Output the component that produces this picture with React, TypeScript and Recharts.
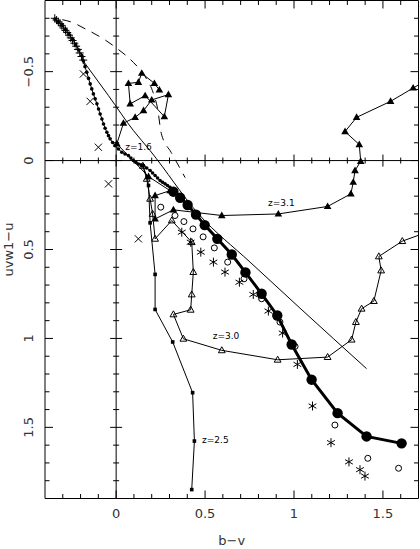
import React from 'react';
import { ComposedChart, Line, XAxis, YAxis, ReferenceLine, ReferenceDot } from 'recharts';

type P = [number, number];

// ---- data: [b−v, uvw1−u] ----
const dotTrack: P[] = [
  [-0.343, -0.796], [-0.325, -0.78], [-0.305, -0.76], [-0.285, -0.736], [-0.265, -0.71], [-0.245, -0.682],
  [-0.228, -0.652], [-0.21, -0.622], [-0.193, -0.59], [-0.184, -0.56], [-0.175, -0.528], [-0.165, -0.496],
  [-0.155, -0.462], [-0.146, -0.431], [-0.137, -0.403], [-0.128, -0.375], [-0.118, -0.347], [-0.108, -0.319],
  [-0.099, -0.29], [-0.09, -0.262], [-0.08, -0.234], [-0.071, -0.206], [-0.062, -0.182], [-0.052, -0.159],
  [-0.043, -0.14], [-0.034, -0.122], [-0.02, -0.102], [-0.006, -0.084], [0.013, -0.065], [0.032, -0.047],
  [0.05, -0.037], [0.069, -0.028], [0.083, -0.014], [0.097, 0], [0.111, 0.01], [0.125, 0.019], [0.14, 0.024],
  [0.154, 0.028], [0.172, 0.042], [0.191, 0.056], [0.205, 0.07], [0.219, 0.084], [0.233, 0.098], [0.247, 0.112],
  [0.261, 0.122], [0.275, 0.131], [0.289, 0.14], [0.303, 0.15],
];

const plusPts: P[] = [
  [-0.345, -0.8], [-0.335, -0.79], [-0.325, -0.78], [-0.315, -0.77], [-0.305, -0.758], [-0.295, -0.745],
  [-0.285, -0.732], [-0.275, -0.72], [-0.265, -0.705], [-0.255, -0.69], [-0.245, -0.675], [-0.235, -0.66],
  [-0.225, -0.643], [-0.215, -0.625], [-0.205, -0.605], [-0.195, -0.585], [-0.185, -0.565],
];

const crossPts: P[] = [[-0.184, -0.487], [-0.146, -0.333], [-0.1, -0.075], [-0.043, 0.131], [0.125, 0.44]];

const thinCurve: P[] = [
  [-0.193, -0.571], [-0.043, -0.365], [0.097, -0.169], [0.191, -0.056], [0.462, 0.299], [0.753, 0.571],
  [1.034, 0.83], [1.408, 1.17],
];

const dashedCurve: P[] = [
  [-0.303, -0.792], [-0.258, -0.781], [-0.165, -0.736], [-0.071, -0.684], [0.004, -0.631], [0.097, -0.552],
  [0.163, -0.472], [0.208, -0.382], [0.233, -0.292], [0.254, -0.152], [0.31, -0.045], [0.36, 0.045], [0.388, 0.096],
];

const track31Edge: P = [1.7, -0.425];
const track31: P[] = [
  [1.67, -0.408], [1.543, -0.333], [1.352, -0.243], [1.287, -0.163], [1.367, -0.09], [1.375, 0.004],
  [1.343, 0.056], [1.333, 0.122], [1.32, 0.187], [1.189, 0.258], [0.912, 0.3], [0.594, 0.309], [0.322, 0.277],
  [0.219, 0.328], [0.219, 0.197], [0.303, 0.169], [0.182, 0.09], [0.004, -0.094], [0.041, -0.21], [0.107, -0.243],
  [0.154, -0.281], [0.2, -0.341], [0.294, -0.371], [0.271, -0.247], [0.163, -0.365], [0.079, -0.319],
  [0.069, -0.434], [0.125, -0.44], [0.144, -0.491], [0.215, -0.434], [0.243, -0.397],
];

const track30Edge: P = [1.7, 0.42];
const track30: P[] = [
  [1.609, 0.453], [1.477, 0.539], [1.49, 0.618], [1.449, 0.79], [1.38, 0.833], [1.348, 0.908], [1.324, 1.007],
  [1.189, 1.105], [0.908, 1.12], [0.594, 1.067], [0.378, 1.002], [0.322, 0.865], [0.419, 0.839], [0.425, 0.753],
  [0.434, 0.627], [0.425, 0.459], [0.313, 0.337], [0.219, 0.44], [0.205, 0.3], [0.191, 0.215], [0.172, 0.103],
  [0.15, 0.03],
];

const track25: P[] = [
  [0.15, 0.03], [0.175, 0.094], [0.182, 0.14], [0.191, 0.35], [0.219, 0.64], [0.219, 0.837], [0.318, 1.02],
  [0.43, 1.305], [0.44, 1.577], [0.425, 1.85],
];

const bigCircleTrack: P[] = [
  [0.322, 0.175], [0.36, 0.209], [0.402, 0.25], [0.449, 0.304], [0.498, 0.363], [0.569, 0.44], [0.65, 0.528],
  [0.727, 0.629], [0.818, 0.749], [0.906, 0.871], [0.987, 1.034], [1.099, 1.232], [1.245, 1.42], [1.408, 1.551],
  [1.605, 1.59],
];

const openCirclePts: P[] = [
  [0.251, 0.262], [0.331, 0.309], [0.381, 0.343], [0.432, 0.384], [0.489, 0.429], [0.552, 0.491], [0.627, 0.571],
  [0.719, 0.665], [0.818, 0.777], [0.921, 0.908], [1.006, 1.045], [1.23, 1.487], [1.415, 1.674], [1.588, 1.73],
];

const starPts: P[] = [
  [0.369, 0.403], [0.419, 0.459], [0.476, 0.515], [0.547, 0.571], [0.612, 0.627], [0.693, 0.684], [0.771, 0.753],
  [0.856, 0.846], [0.936, 0.97], [1.019, 1.146], [1.104, 1.38], [1.208, 1.586], [1.309, 1.694], [1.371, 1.738],
  [1.399, 1.774],
];

const zLabels = [
  { text: 'z=1.6', x: 0.051, y: -0.062 },
  { text: 'z=3.1', x: 0.854, y: 0.253 },
  { text: 'z=3.0', x: 0.543, y: 1.006 },
  { text: 'z=2.5', x: 0.483, y: 1.59 },
];

// ---- axes ----
const xDomain: P = [-0.4, 1.7];
const yDomain: P = [-0.9, 1.9];
const xMinorTicks = [-0.3, -0.2, -0.1, 0, 0.1, 0.2, 0.3, 0.4, 0.5, 0.6, 0.7, 0.8, 0.9, 1.0, 1.1, 1.2, 1.3, 1.4, 1.5, 1.6];
const yMinorTicks = [-0.8, -0.7, -0.6, -0.5, -0.4, -0.3, -0.2, -0.1, 0, 0.1, 0.2, 0.3, 0.4, 0.5, 0.6, 0.7, 0.8, 0.9,
  1.0, 1.1, 1.2, 1.3, 1.4, 1.5, 1.6, 1.7, 1.8];
const xMajorTicks = [0, 0.5, 1, 1.5];
const xTickLabels = ['0', '0.5', '1', '1.5'];
const yMajorTicks = [-0.5, 0, 0.5, 1, 1.5];
const yTickLabels = ['−0.5', '0', '0.5', '1', '1.5'];

const FONT = 'DejaVu Sans, Liberation Sans, sans-serif';
const TICK_MINOR = 0.0253;
const TICK_MAJOR = 0.045;
const INNER_MINOR = 0.0169;
const INNER_MAJOR = 0.0337;

const rows = (pts: P[], edge?: P) => {
  const r: any[] = pts.map(([x, y]) => ({ x, y }));
  if (edge) r.unshift({ x: edge[0], y: edge[1], edge: true });
  return r;
};

const isMajor = (arr: number[], v: number) => arr.some((m) => Math.abs(m - v) < 1e-9);

const marker = (kind: string) => (p: any) => {
  const { cx, cy, index, payload } = p;
  const key = `${kind}-${index}`;
  if (cx == null || cy == null || (payload && payload.edge)) return <g key={key} />;
  switch (kind) {
    case 'dot':
      return <circle key={key} cx={cx} cy={cy} r={1.8} fill="#000" />;
    case 'square':
      return <rect key={key} x={cx - 1.8} y={cy - 1.8} width={3.6} height={3.6} fill="#000" />;
    case 'big':
      return <circle key={key} cx={cx} cy={cy} r={5.2} fill="#000" />;
    case 'ocircle':
      return <circle key={key} cx={cx} cy={cy} r={3} fill="none" stroke="#000" strokeWidth={1} />;
    case 'otri':
      return (
        <polygon key={key} points={`${cx},${cy - 3.6} ${cx - 3.4},${cy + 2.4} ${cx + 3.4},${cy + 2.4}`}
          fill="none" stroke="#000" strokeWidth={1} />
      );
    case 'ftri':
      return (
        <polygon key={key} points={`${cx},${cy - 4} ${cx - 3.8},${cy + 2.6} ${cx + 3.8},${cy + 2.6}`} fill="#000" />
      );
    case 'star': {
      const r = 4.5, c = r * 0.866, s = r * 0.5;
      return (
        <g key={key} stroke="#000" strokeWidth={1}>
          <line x1={cx} y1={cy - r} x2={cx} y2={cy + r} />
          <line x1={cx - c} y1={cy - s} x2={cx + c} y2={cy + s} />
          <line x1={cx - c} y1={cy + s} x2={cx + c} y2={cy - s} />
        </g>
      );
    }
    case 'cross': {
      const h = 3.6;
      return (
        <g key={key} stroke="#000" strokeWidth={1}>
          <line x1={cx - h} y1={cy - h} x2={cx + h} y2={cy + h} />
          <line x1={cx - h} y1={cy + h} x2={cx + h} y2={cy - h} />
        </g>
      );
    }
    case 'plus': {
      const h = 4;
      return (
        <g key={key} stroke="#000" strokeWidth={1}>
          <line x1={cx - h} y1={cy} x2={cx + h} y2={cy} />
          <line x1={cx} y1={cy - h} x2={cx} y2={cy + h} />
        </g>
      );
    }
    default:
      return <g key={key} />;
  }
};

const XTick = (p: any) => {
  const { x, y, payload } = p;
  const i = xMajorTicks.findIndex((m) => Math.abs(m - payload.value) < 1e-9);
  return (
    <text x={x} y={y + 19.5} textAnchor="middle" fontSize={13} fontFamily={FONT} fill="#333">
      {i >= 0 ? xTickLabels[i] : ''}
    </text>
  );
};

const YTick = (p: any) => {
  const { x, y, payload } = p;
  const i = yMajorTicks.findIndex((m) => Math.abs(m - payload.value) < 1e-9);
  const tx = x - 12;
  return (
    <text x={tx} y={y} transform={`rotate(-90, ${tx}, ${y})`} textAnchor="middle" fontSize={13} fontFamily={FONT} fill="#333">
      {i >= 0 ? yTickLabels[i] : ''}
    </text>
  );
};

const seg = (a: P, b: P, key: string) => (
  <ReferenceLine key={key} segment={[{ x: a[0], y: a[1] }, { x: b[0], y: b[1] }]} stroke="#000" strokeWidth={1} ifOverflow="visible" />
);

export default function App() {
  const tickLines: React.ReactNode[] = [];
  xMinorTicks.forEach((v, i) => {
    const L = isMajor(xMajorTicks, v) ? TICK_MAJOR : TICK_MINOR;
    const I = isMajor(xMajorTicks, v) ? INNER_MAJOR : INNER_MINOR;
    tickLines.push(seg([v, yDomain[1]], [v, yDomain[1] - L], `xb${i}`));
    tickLines.push(seg([v, yDomain[0]], [v, yDomain[0] + L], `xt${i}`));
    tickLines.push(seg([v, -I], [v, I], `xm${i}`));
  });
  yMinorTicks.forEach((v, i) => {
    const L = isMajor(yMajorTicks, v) ? TICK_MAJOR : TICK_MINOR;
    const I = isMajor(yMajorTicks, v) ? INNER_MAJOR : INNER_MINOR;
    tickLines.push(seg([xDomain[0], v], [xDomain[0] + L, v], `yl${i}`));
    tickLines.push(seg([xDomain[1], v], [xDomain[1] - L, v], `yr${i}`));
    tickLines.push(seg([-I, v], [I, v], `ym${i}`));
  });

  return (
    <div style={{ position: 'absolute', left: 0, top: 0, background: '#fff' }}>
      <ComposedChart width={420} height={549} margin={{ top: 0.5, right: 1.5, bottom: 0, left: 0 }}>
        <XAxis
          type="number" dataKey="x" domain={xDomain} allowDataOverflow ticks={xMajorTicks} interval={0}
          tick={<XTick />} tickLine={false} axisLine={false} tickSize={0} tickMargin={0} height={50.5}
          label={{ value: 'b−v', position: 'insideBottom', offset: 4, fontSize: 13, fontFamily: FONT, fill: '#333', style: { textAnchor: 'middle' } }}
        />
        <YAxis
          type="number" dataKey="y" domain={yDomain} allowDataOverflow reversed ticks={yMajorTicks} interval={0}
          tick={<YTick />} tickLine={false} axisLine={false} tickSize={0} tickMargin={0} width={45}
          label={{ value: 'uvw1−u', angle: -90, position: 'insideLeft', offset: 8.5, fontSize: 13, fontFamily: FONT, fill: '#333', style: { textAnchor: 'middle' } }}
        />

        {/* frame and inner axes */}
        <ReferenceLine x={xDomain[0]} stroke="#000" strokeWidth={1} />
        <ReferenceLine x={xDomain[1]} stroke="#000" strokeWidth={1} />
        <ReferenceLine y={yDomain[0]} stroke="#000" strokeWidth={1} />
        <ReferenceLine y={yDomain[1]} stroke="#000" strokeWidth={1} />
        <ReferenceLine x={0} stroke="#000" strokeWidth={1} />
        <ReferenceLine y={0} stroke="#000" strokeWidth={1} />
        {tickLines}

        <Line data={rows(thinCurve)} dataKey="y" type="monotone" stroke="#000" strokeWidth={1} dot={false} activeDot={false} isAnimationActive={false} />
        <Line data={rows(dashedCurve)} dataKey="y" type="monotone" stroke="#000" strokeWidth={1} strokeDasharray="9 7" dot={false} activeDot={false} isAnimationActive={false} />
        <Line data={rows(track31, track31Edge)} dataKey="y" type="linear" stroke="#000" strokeWidth={1} dot={marker('ftri')} activeDot={false} isAnimationActive={false} />
        <Line data={rows(track30, track30Edge)} dataKey="y" type="linear" stroke="#000" strokeWidth={1} dot={marker('otri')} activeDot={false} isAnimationActive={false} />
        <Line data={rows(track25)} dataKey="y" type="linear" stroke="#000" strokeWidth={1} dot={marker('square')} activeDot={false} isAnimationActive={false} />
        <Line data={rows(dotTrack)} dataKey="y" type="linear" stroke="#000" strokeWidth={1} dot={marker('dot')} activeDot={false} isAnimationActive={false} />
        <Line data={rows(plusPts)} dataKey="y" stroke="none" dot={marker('plus')} activeDot={false} isAnimationActive={false} />
        <Line data={rows(crossPts)} dataKey="y" stroke="none" dot={marker('cross')} activeDot={false} isAnimationActive={false} />
        <Line data={rows(openCirclePts)} dataKey="y" stroke="none" dot={marker('ocircle')} activeDot={false} isAnimationActive={false} />
        <Line data={rows(starPts)} dataKey="y" stroke="none" dot={marker('star')} activeDot={false} isAnimationActive={false} />
        <Line data={rows(bigCircleTrack)} dataKey="y" type="linear" stroke="#000" strokeWidth={3} dot={marker('big')} activeDot={false} isAnimationActive={false} />

        {zLabels.map((l) => (
          <ReferenceDot
            key={l.text} x={l.x} y={l.y} r={0} ifOverflow="visible"
            shape={(p: any) => (
              <text x={p.cx} y={p.cy} fontSize={9} fontFamily={FONT} fill="#000">{l.text}</text>
            )}
          />
        ))}
      </ComposedChart>
    </div>
  );
}
